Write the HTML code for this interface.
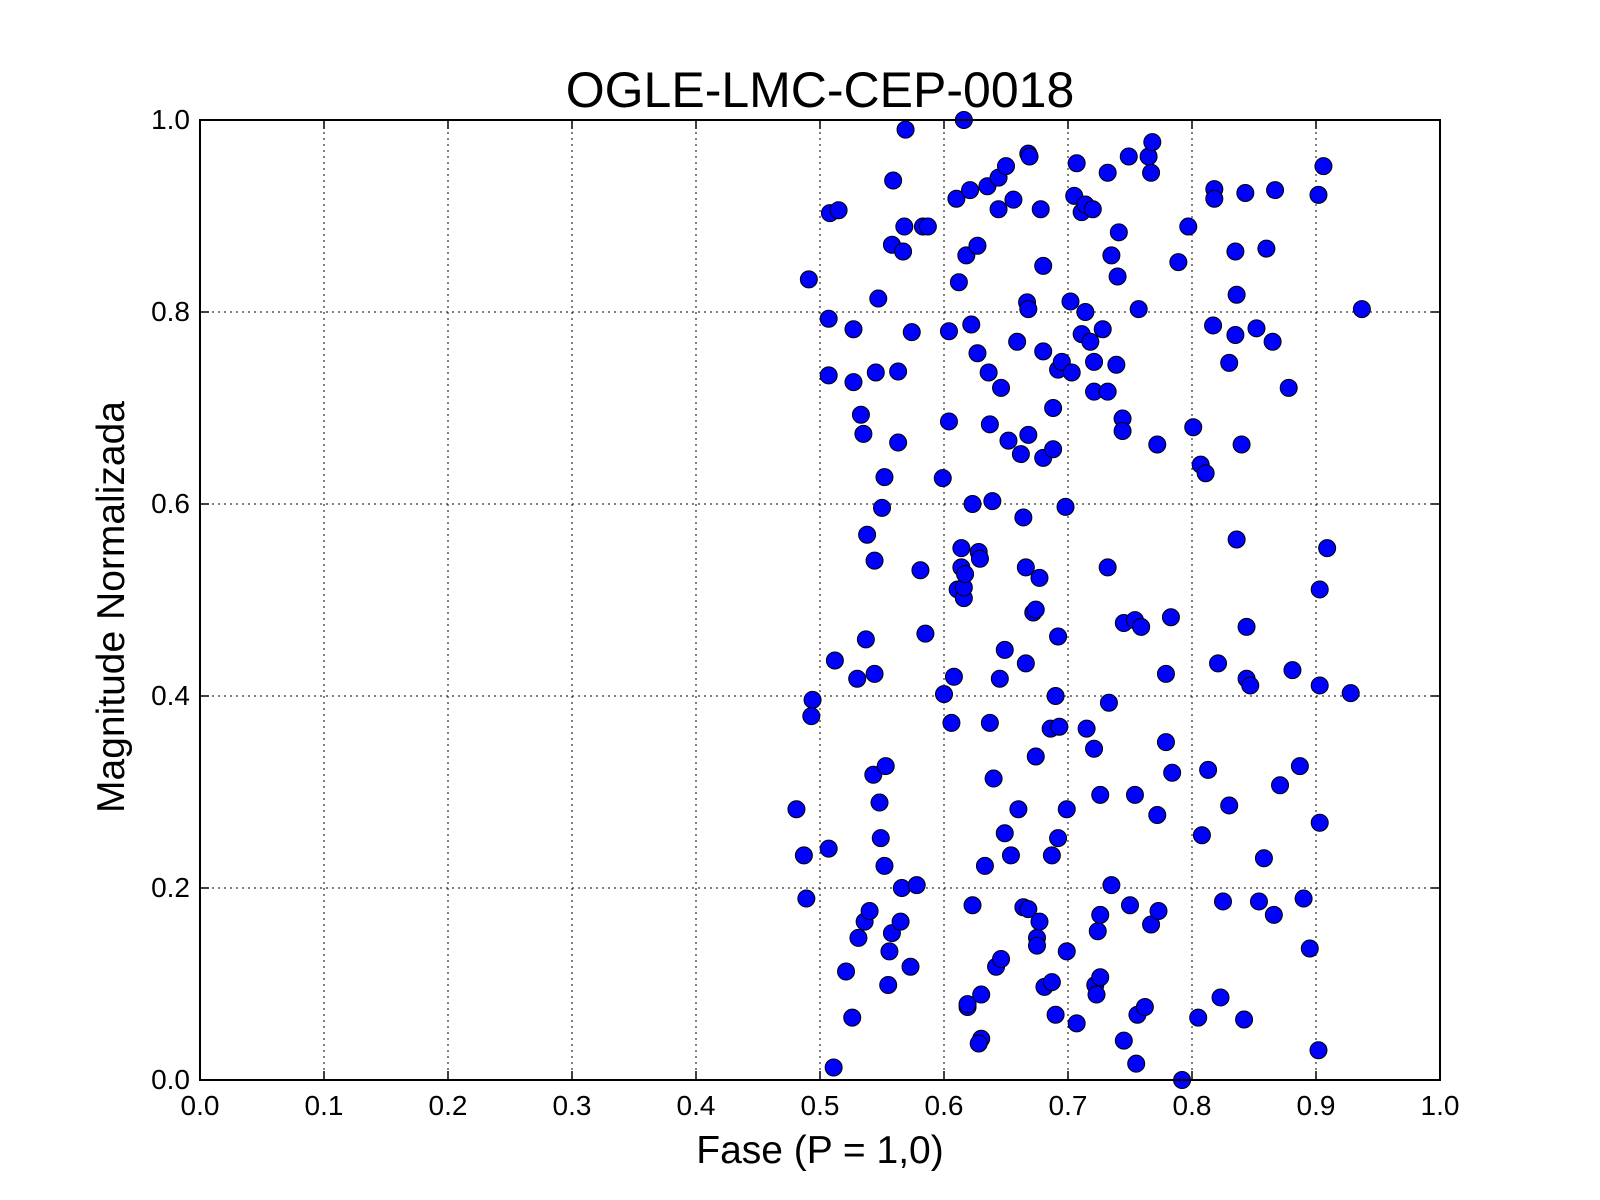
<!DOCTYPE html>
<html><head><meta charset="utf-8"><style>
html,body{margin:0;padding:0;background:#fff;}
svg{display:block;font-family:"Liberation Sans",sans-serif;}
</style></head><body>
<svg id="chart" width="1600" height="1200" viewBox="0 0 1600 1200" xmlns="http://www.w3.org/2000/svg">
<rect width="1600" height="1200" fill="#fff"/>
<g id="grid"></g>
<g id="points"></g>
<rect x="200" y="120" width="1240" height="960" fill="none" stroke="#000" stroke-width="2"/>
<g id="ticks"></g>
<text x="820" y="107" font-size="50" text-anchor="middle">OGLE-LMC-CEP-0018</text>
<text x="820" y="1163" font-size="39" text-anchor="middle">Fase (P = 1,0)</text>
<text transform="translate(124,607) rotate(-90)" font-size="39" text-anchor="middle">Magnitude Normalizada</text>
</svg>
<script>
const xTicks=[0,0.1,0.2,0.3,0.4,0.5,0.6,0.7,0.8,0.9,1.0];
const xTickLabels=["0.0","0.1","0.2","0.3","0.4","0.5","0.6","0.7","0.8","0.9","1.0"];
const yTicks=[0,0.2,0.4,0.6,0.8,1.0];
const yTickLabels=["0.0","0.2","0.4","0.6","0.8","1.0"];
const phase=[.481,.487,.489,.491,.494,.493,.511,.507,.507,.508,.515,.507,.512,.521,.526,.527,.527,.531,.53,.533,.535,.536,.537,.538,.540,.543,.544,.544,.545,.547,.548,.549,.550,.552,.552,.553,.555,.556,.558,.558,.559,.563,.563,.565,.566,.567,.568,.569,.573,.574,.578,.581,.583,.587,.585,.599,.600,.604,.604,.606,.608,.610,.611,.612,.614,.614,.616,.616,.616,.617,.618,.619,.619,.622,.621,.623,.623,.627,.627,.628,.629,.630,.630,.628,.633,.635,.636,.637,.637,.639,.640,.642,.644,.644,.645,.646,.646,.650,.649,.649,.652,.654,.656,.659,.660,.662,.664,.664,.666,.666,.667,.668,.668,.668,.668,.669,.672,.674,.674,.675,.675,.677,.677,.678,.680,.680,.680,.681,.687,.686,.687,.688,.688,.690,.690,.692,.692,.693,.692,.695,.698,.699,.699,.702,.703,.705,.707,.707,.711,.711,.714,.714,.715,.718,.720,.721,.721,.721,.722,.724,.723,.726,.726,.726,.728,.732,.732,.732,.733,.735,.735,.740,.739,.741,.744,.744,.745,.745,.749,.750,.754,.754,.755,.756,.757,.759,.762,.765,.767,.767,.768,.772,.772,.773,.779,.779,.783,.784,.789,.792,.797,.801,.805,.807,.808,.811,.813,.817,.818,.818,.821,.823,.825,.830,.830,.835,.835,.836,.836,.840,.842,.843,.844,.844,.847,.852,.854,.858,.860,.865,.866,.867,.871,.878,.881,.887,.890,.895,.902,.902,.903,.903,.903,.906,.909,.928,.937];
const magnitude=[.282,.234,.189,.834,.396,.379,.013,.793,.734,.903,.906,.241,.437,.113,.065,.782,.727,.148,.418,.693,.673,.165,.459,.568,.176,.318,.541,.423,.737,.814,.289,.252,.596,.223,.628,.327,.099,.134,.153,.870,.937,.664,.738,.165,.200,.863,.889,.990,.118,.779,.203,.531,.889,.889,.465,.627,.402,.686,.780,.372,.420,.918,.511,.831,.554,.534,1.0,.502,.513,.527,.859,.076,.079,.787,.927,.600,.182,.869,.757,.550,.543,.089,.043,.038,.223,.931,.737,.372,.683,.603,.314,.118,.940,.907,.418,.126,.721,.952,.448,.257,.666,.234,.917,.769,.282,.652,.180,.586,.434,.534,.810,.803,.965,.672,.178,.962,.487,.490,.337,.148,.140,.165,.523,.907,.848,.759,.648,.097,.102,.366,.234,.700,.657,.400,.068,.252,.740,.368,.462,.748,.597,.282,.134,.811,.737,.921,.955,.059,.777,.904,.912,.800,.366,.769,.907,.345,.748,.717,.099,.155,.089,.107,.172,.297,.782,.945,.717,.534,.393,.859,.203,.837,.745,.883,.689,.676,.041,.476,.962,.182,.479,.297,.017,.068,.803,.472,.076,.962,.945,.162,.977,.662,.276,.176,.423,.352,.482,.320,.852,0.0,.889,.680,.065,.641,.255,.632,.323,.786,.928,.918,.434,.086,.186,.747,.286,.863,.776,.818,.563,.662,.063,.924,.472,.418,.411,.783,.186,.231,.866,.769,.172,.927,.307,.721,.427,.327,.189,.137,.031,.922,.511,.268,.411,.952,.554,.403,.803];
const NS="http://www.w3.org/2000/svg";
const X0=200,X1=1440,Y0=1080,Y1=120;
const xs=v=>X0+(X1-X0)*v;
const ys=v=>Y0-(Y0-Y1)*v;
const grid=document.getElementById('grid'),ticks=document.getElementById('ticks'),pts=document.getElementById('points');
function mk(tag,attrs,parent){const e=document.createElementNS(NS,tag);for(const k in attrs)e.setAttribute(k,attrs[k]);parent.appendChild(e);return e;}
xTicks.forEach((t,i)=>{
  const x=xs(t);
  const g=mk('line',{x1:x,x2:x,y1:Y1,y2:Y0,stroke:'#000','stroke-width':1,'stroke-dasharray':'2,4'},grid);
  
  
  mk('line',{x1:x,x2:x,y1:Y0,y2:Y0-9,stroke:'#000','stroke-width':1.5},ticks);
  mk('line',{x1:x,x2:x,y1:Y1,y2:Y1+9,stroke:'#000','stroke-width':1.5},ticks);
  const l=mk('text',{x:x,y:Y0+35,'font-size':28,'text-anchor':'middle'},ticks);
  l.textContent=xTickLabels[i];
  
  
});
yTicks.forEach((t,i)=>{
  const y=ys(t);
  const g=mk('line',{x1:X0,x2:X1,y1:y,y2:y,stroke:'#000','stroke-width':1,'stroke-dasharray':'2,4'},grid);
  
  
  mk('line',{x1:X0,x2:X0+9,y1:y,y2:y,stroke:'#000','stroke-width':1.5},ticks);
  mk('line',{x1:X1,x2:X1-9,y1:y,y2:y,stroke:'#000','stroke-width':1.5},ticks);
  const l=mk('text',{x:X0-10,y:y+9,'font-size':28,'text-anchor':'end'},ticks);
  l.textContent=yTickLabels[i];
  
  
});
phase.forEach((p,i)=>{
  const c=mk('circle',{cx:xs(p),cy:ys(magnitude[i]),r:8.5,fill:'#0000ff',stroke:'#000','stroke-width':1},pts);
  
  
});
</script>
</body></html>
